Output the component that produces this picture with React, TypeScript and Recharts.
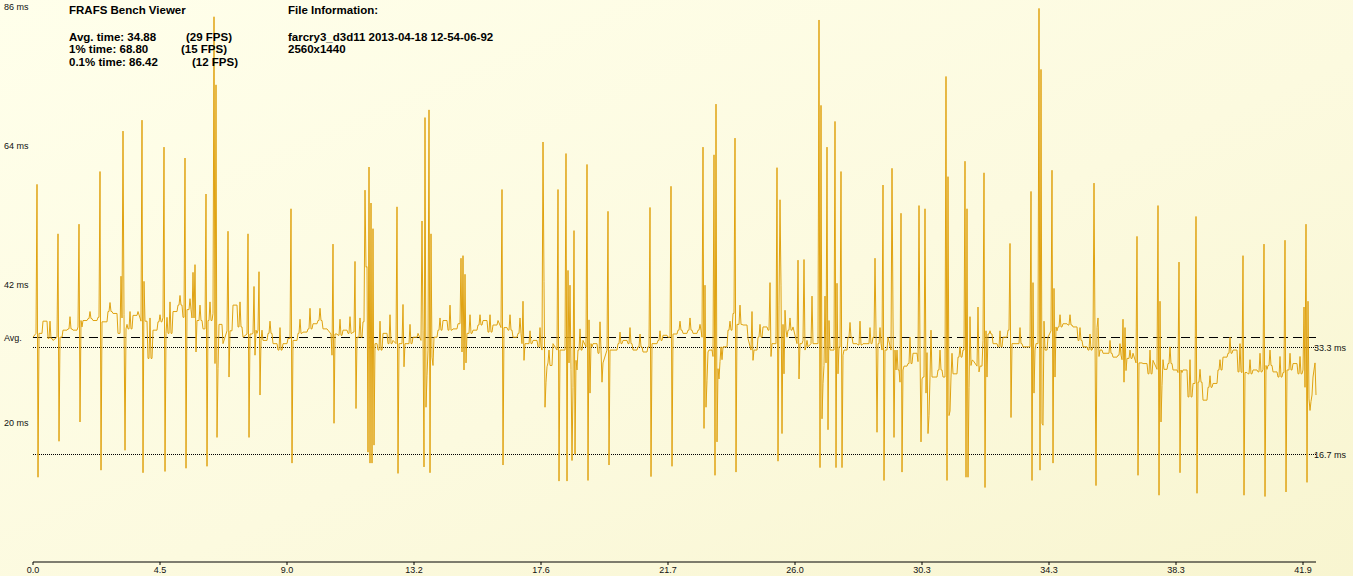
/**
 * FrameTimeChart — FRAFS Bench Viewer frame time plot
 * one gold line of frame times, avg / 30 fps / 60 fps guides
 */
import { LineChart, Line, XAxis, YAxis, ReferenceLine } from 'recharts';

const FONT = '"Liberation Sans", Arial, sans-serif';
const LINE_COLOR = '#E0A312';

// baseline frame time (ms), sampled every 5 frames
const baseStep = 5;
const baseMs = [
  35.0, 35.6, 37.5, 34.8, 34.5, 35.0, 36.1, 36.3, 36.1, 36.6,
  37.6, 37.9, 37.6, 38.1, 37.4, 39.0, 38.7, 35.6, 37.0, 36.3,
  38.4, 39.0, 37.5, 31.7, 36.1, 37.4, 38.1, 35.6, 39.0, 40.0,
  38.1, 39.3, 38.0, 37.6, 36.3, 37.6, 38.7, 37.0, 34.0, 36.0,
  40.0, 36.6, 35.0, 35.5, 35.6, 36.1, 34.5, 35.6, 34.0, 33.0,
  34.0, 34.8, 34.5, 35.6, 35.8, 36.3, 37.1, 37.6, 36.3, 36.1,
  35.5, 35.3, 36.1, 35.6, 35.8, 35.0, 37.4, 36.0, 34.0, 33.0,
  35.6, 34.0, 34.5, 34.0, 34.0, 34.0, 35.0, 35.6, 34.5, 35.0,
  35.0, 36.1, 37.6, 36.1, 36.3, 37.1, 36.0, 35.6, 36.1, 36.9,
  37.6, 35.8, 36.9, 37.6, 36.5, 36.1, 35.0, 35.6, 34.0, 34.0,
  34.5, 33.5, 33.0, 30.6, 34.0, 33.0, 33.0, 33.0, 32.0, 33.0,
  34.5, 33.5, 34.0, 32.5, 31.0, 33.0, 33.0, 34.0, 34.5, 34.0,
  33.0, 33.5, 32.7, 33.5, 34.0, 34.5, 35.3, 35.0, 35.5, 36.1,
  35.6, 36.1, 35.6, 36.1, 35.0, 33.0, 32.0, 31.5, 33.5, 36.1,
  38.7, 37.0, 36.9, 34.8, 33.0, 35.0, 36.6, 36.1, 34.0, 34.0,
  35.0, 36.1, 36.6, 34.0, 34.5, 33.5, 34.0, 34.0, 33.0, 33.0,
  33.0, 33.5, 33.0, 35.0, 34.0, 33.8, 34.0, 34.0, 35.0, 34.0,
  33.0, 35.0, 33.0, 29.9, 30.5, 30.9, 32.5, 31.2, 28.8, 30.0,
  28.8, 29.9, 28.8, 28.5, 29.3, 31.9, 33.0, 31.0, 31.4, 30.5,
  34.5, 35.5, 34.0, 33.5, 35.0, 36.1, 34.0, 34.0, 33.5, 33.5,
  34.0, 34.0, 33.0, 35.0, 36.0, 36.6, 37.1, 36.9, 36.6, 34.5,
  33.5, 33.0, 33.5, 33.0, 32.5, 32.5, 31.9, 32.2, 31.5, 31.7,
  32.5, 31.0, 30.9, 29.3, 31.4, 30.0, 30.0, 30.9, 29.9, 29.5,
  29.9, 25.7, 27.8, 28.0, 25.2, 27.2, 27.8, 29.9, 31.9, 32.5,
  33.0, 29.6, 29.5, 29.3, 29.9, 29.6, 30.0, 30.6, 29.6, 28.8,
  29.5, 29.9, 30.9, 29.3, 29.9, 28.0, 26.0,
];

// small one-frame jitter tops on the baseline, one per 10 frames
const jitterStep = 10;
const jitterMs = [
  38.5, 37.5, 36.5, 38.2, 38.5, 39.0, 39.5, 40.4, 41.0, 39.0,
  40.5, 38.0, 38.5, 40.5, 41.5, 41.0, 40.0, 40.5, 39.0, 42.0,
  40.5, 37.0, 38.5, 37.5, 36.5, 37.0, 37.8, 39.5, 39.5, 38.0,
  37.8, 38.2, 38.0, 38.0, 37.5, 38.5, 36.5, 37.0, 36.8, 36.0,
  38.0, 40.0, 40.0, 38.5, 38.5, 38.5, 38.2, 38.5, 38.0, 36.0,
  36.5, 35.0, 36.0, 35.0, 36.3, 36.0, 37.8, 36.0, 35.8, 36.5,
  35.5, 35.0, 36.0, 37.0, 37.5, 38.0, 37.0, 36.0, 36.0, 37.5,
  40.0, 38.0, 37.0, 38.0, 37.0, 38.0, 37.5, 37.5, 36.0, 36.0,
  36.0, 37.3, 37.5, 36.5, 36.5, 36.0, 34.0, 35.0, 33.5, 33.0,
  33.0, 32.0, 33.5, 34.0, 36.5, 36.0, 36.0, 37.0, 36.5, 35.0,
  36.0, 38.5, 38.5, 38.5, 36.5, 35.5, 35.0, 34.5, 34.0, 33.0,
  34.0, 33.0, 32.5, 33.5, 32.0, 31.5, 30.0, 29.0, 31.5, 35.0,
  34.0, 31.5, 32.5, 33.0, 32.0, 32.5, 32.0, 32.0, 32.0,
];

// stutter events: first frame + consecutive frame times (ms)
const spikeStart = [
  4, 25, 46, 67, 88, 109, 131, 152, 160, 173, 181, 195, 215, 221, 226, 258,
  299, 322, 332, 364, 370, 389, 428, 469, 490, 510, 525, 533, 554, 567, 575,
  617, 638, 670, 681, 702, 719, 737, 744, 765, 771, 779, 786, 802, 808, 842,
  850, 859, 867, 886, 892, 913, 932, 945, 951, 977, 998, 1006, 1019, 1061,
  1090, 1104, 1125, 1146, 1163, 1210, 1231, 1252, 1271,
];
const spikeMs = [
  [58.8, 13.2], [51.1, 18.8], [52.6, 21.8], [60.8, 14.3],
  [44.5, 38, 67.1, 38.5, 17.4], [68.8, 13.9, 43.7], [64.6, 14.1], [62.9, 14.6],
  [45.1, 38, 46.3, 32.7], [57.3, 14.9], [84.9, 30.9, 74.3, 19.4, 30.1],
  [51.5, 28.8], [51.1, 19.4], [42.9, 32.2], [45.2, 26], [55, 15.4],
  [32.2, 49.5, 21.6], [46.8, 23.9],
  [57.9, 45.9, 46, 17.1, 61.5, 15.4, 55.9, 15.4, 51.9, 18.2],
  [55.3, 13.8], [40.1, 30.4],
  [53.1, 36, 14.8, 69.2, 24.1, 29, 33, 70.4, 13.9, 51.1, 31.9, 30.6],
  [47.3, 32.7, 47.7, 29.9, 44.8, 31], [58, 15.1], [40.6, 31.4],
  [65.4, 43.7, 24.1, 28, 30.4, 31, 33], [58, 12.6],
  [63.6, 12.6, 45.4, 31, 43.1, 30, 15.8, 27.2, 51.6, 16.8, 31.4, 29.9],
  [61.9, 12.7, 37.7, 26.3], [37.4, 33, 28], [54.6, 15.1],
  [55.2, 13.3], [58.5, 14.9], [64.6, 20.8, 43.1, 24.1, 28.3, 32.7],
  [63.4, 13.5, 71.3, 18.7, 30.1, 28.5, 31.2], [66, 14], [39, 31.4], [43.5, 32],
  [61.4, 15.7, 40, 56.4, 43, 20, 37, 29.3, 39.2], [47, 28.5], [47.1, 33], [41.4, 34],
  [84.4, 14.7, 71.1, 22.3, 27.8, 30.6, 41.4, 31, 64.6, 20.6, 37.6],
  [68.6, 14.7, 43.4, 29.3], [60.8, 14.7, 32.2], [47.3, 36, 20.2],
  [58.7, 12.7], [61.3, 38, 19.4, 33], [28, 54.3, 14, 29.9], [55.5, 33, 18.7, 28.5],
  [55, 26.3, 32.6, 20, 22.8, 28.8, 36.1], [75.6, 12.7, 60, 22.8, 23.5, 28.8, 32.5],
  [62.4, 13.2, 55, 13.2, 27.2, 38.2, 30.6], [39.7, 29.6], [60.6, 11.6, 36, 28.8],
  [49.6, 22.5], [57.7, 12.7, 43.5, 26.3, 33], [86.2, 14.3, 76.7, 21.6, 21.3, 37.5],
  [61, 15.4, 42.6, 28.8], [59, 35, 11.9, 36.5, 38, 32],
  [37.8, 28, 36.5, 29.8], [50.7, 13.5], [55.5, 10.4, 40.6, 21.8, 27.5, 31.5],
  [46.7, 13.9], [53.8, 10.7], [47.7, 10.4], [49.5, 10.2], [50.1, 10.9],
  [39.7, 27.2, 52.6, 12.4, 40.6, 25.4, 23.6, 25, 26, 28.8, 29.9, 31],
];

const frameCount = 1283;
const xTickFrames = [0, 127, 254, 381, 508, 635, 762, 889, 1016, 1143, 1270];
const xTickLabels = ['0.0', '4.5', '9.0', '13.2', '17.6', '21.7', '26.0', '30.3', '34.3', '38.3', '41.9'];

const maxMs = 86.42;
const avgMs = 34.88;
const yTickMs = [21.6, avgMs, 43.2, 64.8, maxMs];
const yTickLabels = ['20 ms', 'Avg.', '42 ms', '64 ms', '86 ms'];
const fpsLines = [33.33, 16.67];
const fpsLabels = ['33.3 ms', '16.7 ms'];

const statLabels = ['Avg. time: 34.88', '1% time: 68.80', '0.1% time: 86.42'];
const statFps = ['(29 FPS)', '(15 FPS)', '(12 FPS)'];
const fileInfo = ['farcry3_d3d11 2013-04-18 12-54-06-92', '2560x1440'];

// build the point table: each baseline sample holds for its 5 frames,
// jitter ticks and stutter events are laid over it
const baseAt = (f: number) => baseMs[Math.min(baseMs.length - 1, Math.max(0, Math.round(f / baseStep)))];
const inSpike = (f: number) =>
  spikeStart.some((s, k) => f >= s - 1 && f <= s + spikeMs[k].length);

const points: { f: number; ms: number }[] = [];
baseMs.forEach((v, i) => {
  const f = i * baseStep;
  if (!inSpike(f)) points.push({ f, ms: v });
  if (!inSpike(f + baseStep - 1) && f + baseStep - 1 <= frameCount) points.push({ f: f + baseStep - 1, ms: v });
});
jitterMs.forEach((top, i) => {
  const t = i * jitterStep + 7;
  if (t + 1 > frameCount || inSpike(t - 1) || inSpike(t) || inSpike(t + 1)) return;
  const v = baseMs[(i * jitterStep + baseStep) / baseStep];
  points.push({ f: t - 1, ms: v }, { f: t, ms: top }, { f: t + 1, ms: v });
});
spikeStart.forEach((s, k) => {
  const vals = spikeMs[k];
  points.push({ f: s - 1, ms: baseAt(s - 1) });
  vals.forEach((v, j) => points.push({ f: s + j, ms: v }));
  points.push({ f: s + vals.length, ms: baseAt(s + vals.length) });
});
points.sort((a, b) => a.f - b.f);

const headText: React.CSSProperties = {
  position: 'absolute', fontFamily: FONT, fontWeight: 700, fontSize: 11.5,
  color: '#000', whiteSpace: 'nowrap', lineHeight: '13px',
};

function YTick({ y, payload }: any) {
  const i = yTickMs.indexOf(payload.value);
  return (
    <text x={4} y={y} dy={3} fontSize={9} fontFamily={FONT} fill="#111">
      {yTickLabels[i]}
    </text>
  );
}

export default function App() {
  const rowY = [30.5, 43, 55.5];
  return (
    <div
      style={{
        position: 'fixed', left: 0, top: 0, width: 1353, height: 576, overflow: 'hidden',
        background: 'linear-gradient(to bottom right, #FFFFEB 0%, #FCFADF 55%, #F8F5D0 100%)',
      }}
    >
      <LineChart width={1353} height={576} data={points} margin={{ top: 7, right: 37, bottom: 0, left: 0 }}>
        <XAxis
          dataKey="f" type="number" domain={[0, frameCount]} ticks={xTickFrames} interval={0}
          tickFormatter={(v: number) => xTickLabels[xTickFrames.indexOf(v)]}
          axisLine={{ stroke: '#000' }} tickLine={{ stroke: '#000' }} tickSize={3} height={14}
          tick={{ fontSize: 9, fill: '#111', fontFamily: FONT }}
        />
        <YAxis
          type="number" domain={[0, maxMs]} ticks={yTickMs} interval={0} width={33}
          axisLine={false} tickLine={false} tick={<YTick />} allowDataOverflow
        />
        <ReferenceLine y={avgMs} stroke="#000" strokeWidth={1} strokeDasharray="9 5" shapeRendering="crispEdges" />
        {fpsLines.map((v, i) => (
          <ReferenceLine
            key={v} y={v} stroke="#000" strokeDasharray="1 1" shapeRendering="crispEdges"
            label={(p: any) => (
              <text x={p.viewBox.x + p.viewBox.width - 2} y={p.viewBox.y} dy={3} fontSize={9} fontFamily={FONT} fill="#111">
                {fpsLabels[i]}
              </text>
            )}
          />
        ))}
        <Line
          type="linear" dataKey="ms" stroke={LINE_COLOR} strokeWidth={1} dot={false}
          isAnimationActive={false}
        />
      </LineChart>

      <div style={{ ...headText, left: 69, top: 4 }}>FRAFS Bench Viewer</div>
      {statLabels.map((s, i) => (
        <div key={s} style={{ ...headText, left: 69, top: rowY[i] }}>{s}</div>
      ))}
      {statFps.map((s, i) => (
        <div key={s} style={{ ...headText, left: [186, 181, 192][i], top: rowY[i] }}>{s}</div>
      ))}
      <div style={{ ...headText, left: 288, top: 4 }}>File Information:</div>
      {fileInfo.map((s, i) => (
        <div key={s} style={{ ...headText, left: 288, top: rowY[i] }}>{s}</div>
      ))}
    </div>
  );
}
